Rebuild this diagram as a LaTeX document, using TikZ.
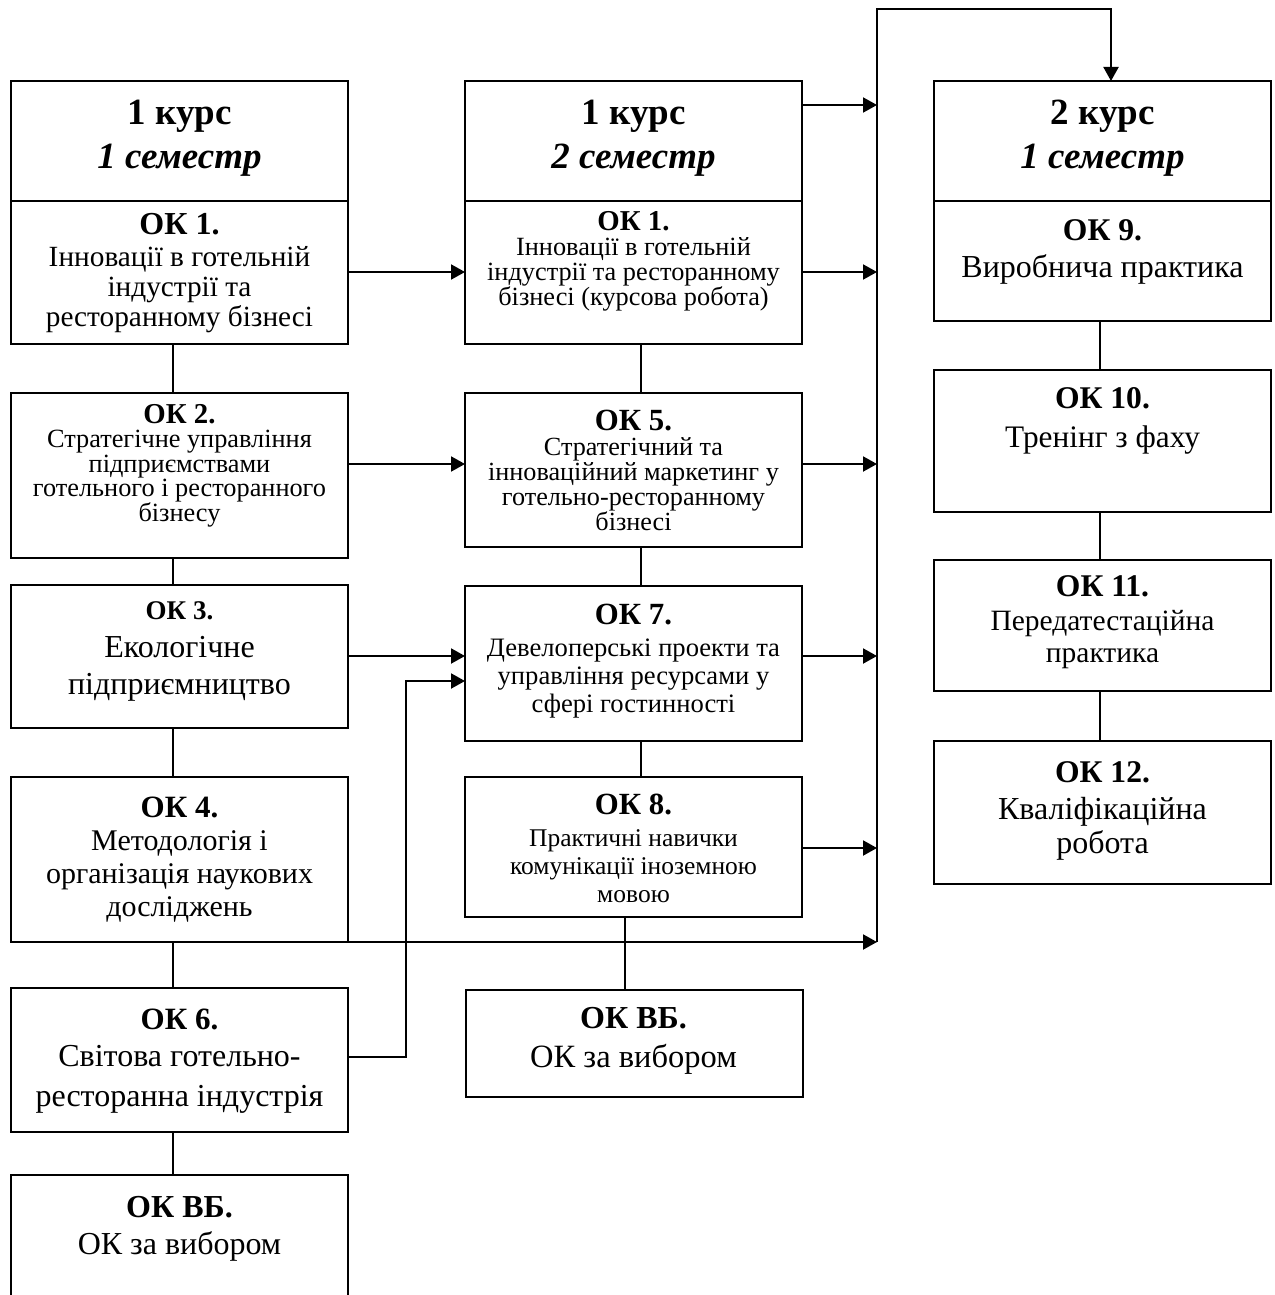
\documentclass[tikz,border=0pt]{standalone}
\usepackage{fontspec}
\setmainfont{Liberation Serif}
\usetikzlibrary{arrows.meta}
\newcommand\okt[2]{{\fontsize{#1}{#1}\selectfont\bfseries #2}}
\newcommand\fs[2]{\fontsize{#1}{#2}\selectfont\lineskiplimit=-100pt\relax}
\newcommand\bx[5]{\node[box,minimum width={#4-#2},minimum height={#5-#3}] (#1) at ({(#2+#4)/2},{(#3+#5)/2}) {};}
\begin{document}
\begin{tikzpicture}[x=1pt,y=-1pt,
  box/.style={draw,line width=2.2pt,inner sep=0pt,outer sep=0pt,rectangle},
  tx/.style={inner sep=0pt,outer sep=0pt,align=center,anchor=north},
  conn/.style={line width=2pt},
  thin/.style={line width=1.6pt},
  arr/.style={line width=2pt,-{Triangle[length=14pt,width=15pt]}}]
\clip (0,0) rectangle (1274,1295);
\fill[white] (0,0) rectangle (1274,1295);
% column 1
\bx{h1}{11}{81}{348}{201}
\bx{k1}{11}{201}{348}{344}
\bx{k2}{11}{393}{348}{558}
\bx{k3}{11}{585}{348}{728}
\bx{k4}{11}{777}{348}{942}
\bx{k6}{11}{988}{348}{1132}
\bx{vb1}{11}{1175}{348}{1320}
% column 2
\bx{h2}{465}{81}{802}{201}
\bx{k1b}{465}{201}{802}{344}
\bx{k5}{465}{393}{802}{547}
\bx{k7}{465}{586}{802}{741}
\bx{k8}{465}{777}{802}{917}
\bx{vb2}{466}{990}{803}{1097}
% column 3
\bx{h3}{934}{81}{1271}{201}
\bx{k9}{934}{201}{1271}{321}
\bx{k10}{934}{370}{1271}{512}
\bx{k11}{934}{560}{1271}{691}
\bx{k12}{934}{741}{1271}{884}
% texts
\node[tx,font=\fs{37}{44}\bfseries] (h1t) at (179.5,100) {1 курс\\\itshape 1 семестр};
\node[tx,font=\fs{37}{44}\bfseries] (h2t) at (633.5,100) {1 курс\\\itshape 2 семестр};
\node[tx,font=\fs{37}{44}\bfseries] (h3t) at (1102.5,100) {2 курс\\\itshape 1 семестр};
\node[tx,font=\fs{29.3}{30}] (k1t) at (179.5,213) {\okt{32}{ОК 1.}\\[2pt]Інновації в готельній\\індустрії та\\ресторанному бізнесі};
\node[tx,font=\fs{26.3}{24.5}] (k2t) at (179.5,404) {\okt{28.8}{ОК 2.}\\Стратегічне управління\\підприємствами\\готельного і ресторанного\\бізнесу};
\node[tx,font=\fs{32}{37}] (k3t) at (179.5,602) {\okt{27}{ОК 3.}\\[1pt]Екологічне\\підприємництво};
\node[tx,font=\fs{30}{33}] (k4t) at (179.5,797) {\okt{31}{ОК 4.}\\Методологія і\\організація наукових\\досліджень};
\node[tx,font=\fs{32}{40}] (k6t) at (179.5,1009) {\okt{31}{ОК 6.}\\[-3pt]Світова готельно-\\ресторанна індустрія};
\node[tx,font=\fs{32}{37}] (vb1t) at (179.5,1196) {\okt{32}{ОК ВБ.}\\ОК за вибором};
\node[tx,font=\fs{26.3}{25}] (k1bt) at (633.5,211) {\okt{28.8}{ОК 1.}\\[0pt]Інновації в готельній\\індустрії та ресторанному\\бізнесі (курсова робота)};
\node[tx,font=\fs{26.2}{25}] (k5t) at (633.5,410) {\okt{30.8}{ОК 5.}\\[0pt]Стратегічний та\\інноваційний маркетинг у\\готельно-ресторанному\\бізнесі};
\node[tx,font=\fs{26.6}{28}] (k7t) at (633.5,604) {\okt{30.8}{ОК 7.}\\[4pt]Девелоперські проекти та\\управління ресурсами у\\сфері гостинності};
\node[tx,font=\fs{25.5}{28}] (k8t) at (633.5,794) {\okt{30.8}{ОК 8.}\\[4pt]Практичні навички\\комунікації іноземною\\мовою};
\node[tx,font=\fs{32.5}{39}] (vb2t) at (633.5,1007) {\okt{32}{ОК ВБ.}\\ОК за вибором};
\node[tx,font=\fs{32}{37}] (k9t) at (1102.5,220) {\okt{31.6}{ОК 9.}\\Виробнича практика};
\node[tx,font=\fs{31.3}{39}] (k10t) at (1102.5,387) {\okt{31.6}{ОК 10.}\\Тренінг з фаху};
\node[tx,font=\fs{29.5}{32}] (k11t) at (1102.5,576) {\okt{31.6}{ОК 11.}\\[2pt]Передатестаційна\\практика};
\node[tx,font=\fs{32}{34}] (k12t) at (1102.5,762) {\okt{31.6}{ОК 12.}\\[3pt]Кваліфікаційна\\робота};
% coordinates
\coordinate (c1) at (173,0);
\coordinate (c2) at (641,0);
\coordinate (c2b) at (625,0);
\coordinate (c3) at (1100,0);
\coordinate (bt) at (877,9);
\coordinate (bb) at (877,942);
\coordinate (tr) at (1111,9);
\coordinate (jn) at (406,681);
% vertical connectors
\draw[conn] (k1.south -| c1) -- (k2.north -| c1);
\draw[conn] (k2.south -| c1) -- (k3.north -| c1);
\draw[conn] (k3.south -| c1) -- (k4.north -| c1);
\draw[conn] (k4.south -| c1) -- (k6.north -| c1);
\draw[conn] (k6.south -| c1) -- (vb1.north -| c1);
\draw[conn] (k1b.south -| c2) -- (k5.north -| c2);
\draw[conn] (k5.south -| c2) -- (k7.north -| c2);
\draw[conn] (k7.south -| c2) -- (k8.north -| c2);
\draw[conn] (k8.south -| c2b) -- (vb2.north -| c2b);
\draw[thin] (k9.south -| c3) -- (k10.north -| c3);
\draw[thin] (k10.south -| c3) -- (k11.north -| c3);
\draw[thin] (k11.south -| c3) -- (k12.north -| c3);
% column 1 -> column 2
\draw[arr] (k1.east |- 0,272) -- (k1b.west |- 0,272);
\draw[arr] (k2.east |- 0,464) -- (k5.west |- 0,464);
\draw[arr] (k3.east |- 0,656) -- (k7.west |- 0,656);
\draw[arr] (k6.east |- 0,1057) -| (jn) -- (k7.west |- jn);
% column 2 -> bus
\draw[arr] (h2.east |- 0,105) -- (bt |- 0,105);
\draw[arr] (k1b.east |- 0,272) -- (bt |- 0,272);
\draw[arr] (k5.east |- 0,464) -- (bt |- 0,464);
\draw[arr] (k7.east |- 0,656) -- (bt |- 0,656);
\draw[arr] (k8.east |- 0,848) -- (bt |- 0,848);
\draw[arr] (k4.south east) -- (bb);
% bus
\draw[arr] (bb) -- (bt) -- (tr) -- (tr |- h3.north);
\end{tikzpicture}
\end{document}
